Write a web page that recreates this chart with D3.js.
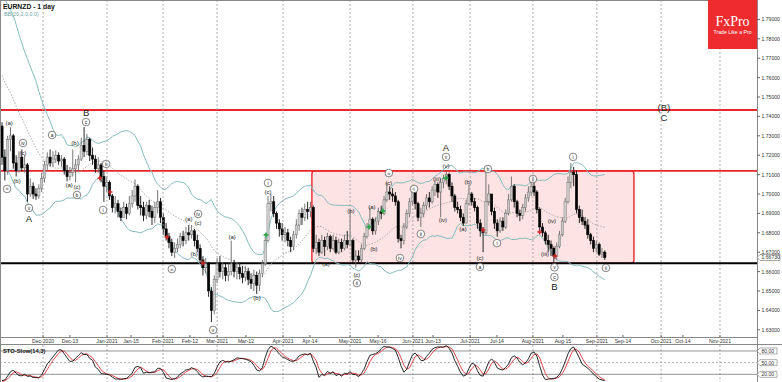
<!DOCTYPE html>
<html><head><meta charset="utf-8">
<script src="https://cdn.jsdelivr.net/npm/d3@7"></script>
<style>body{margin:0;background:#fff}svg{display:block;font-family:"Liberation Sans",Arial,sans-serif}</style>
</head><body><svg id="c" width="782" height="382"></svg>
<script>
// ---------------- DATA ----------------
const symbolTitle = "EURNZD - 1 day";
const bbTitle = "BB(20,2.0,0.0)";
const stoTitle = "STO-Slow(14,3)";
// closes before the first visible bar (only feed the indicators)
const warmupCloses = [1.7780,1.7820,1.7850,1.7800,1.7830,1.7860,1.7810,1.7760,1.7720,1.7690,1.7650,1.7600,1.7560,1.7580,1.7500,1.7450,1.7420,1.7380,1.7400,1.7350];
const firstOpen = 1.7350;
const closes = [
1.7190,1.7120,1.7280,1.7300,1.7160,1.7120,1.7190,1.7135,1.7150,1.7000,
1.7040,1.7000,1.6990,1.7030,1.7080,1.7150,1.7190,1.7160,1.7180,1.7200,
1.7170,1.7180,1.7120,1.7090,1.7110,1.7130,1.7150,1.7180,1.7250,1.7220,
1.7280,1.7200,1.7180,1.7130,1.7150,1.7090,1.7040,1.7060,1.6990,1.6930,
1.6950,1.6910,1.6880,1.6930,1.6900,1.6950,1.6990,1.7040,1.6940,1.6930,
1.6890,1.6940,1.6910,1.6880,1.6930,1.6960,1.6880,1.6820,1.6780,1.6750,
1.6700,1.6720,1.6740,1.6780,1.6760,1.6800,1.6790,1.6810,1.6760,1.6720,
1.6660,1.6620,1.6640,1.6500,1.6400,1.6560,1.6640,1.6600,1.6620,1.6580,
1.6600,1.6640,1.6600,1.6620,1.6590,1.6570,1.6600,1.6560,1.6540,1.6580,
1.6530,1.6590,1.6640,1.6760,1.6950,1.6960,1.6900,1.6850,1.6820,1.6790,
1.6800,1.6760,1.6730,1.6790,1.6840,1.6900,1.6880,1.6920,1.6910,1.6930,
1.6720,1.6750,1.6700,1.6760,1.6730,1.6780,1.6720,1.6760,1.6700,1.6750,
1.6720,1.6760,1.6740,1.6760,1.6660,1.6680,1.6660,1.6720,1.6780,1.6830,
1.6870,1.6810,1.6860,1.6910,1.6900,1.6970,1.7010,1.7000,1.6990,1.6960,
1.6770,1.6760,1.6830,1.6900,1.6960,1.7010,1.6950,1.6880,1.6900,1.6940,
1.6980,1.6960,1.7020,1.7050,1.7010,1.7060,1.7080,1.7100,1.7040,1.6990,
1.6930,1.6920,1.6880,1.6850,1.6950,1.7000,1.6960,1.6930,1.6850,1.6810,
1.6800,1.6960,1.7000,1.6910,1.6850,1.6810,1.6860,1.6830,1.6900,1.6970,
1.7040,1.6960,1.6900,1.6890,1.6930,1.6980,1.7010,1.7040,1.7010,1.6920,
1.6830,1.6800,1.6760,1.6740,1.6720,1.6680,1.6730,1.6790,1.6860,1.6960,
1.7060,1.7110,1.7100,1.6920,1.6880,1.6860,1.6840,1.6790,1.6760,1.6720,
1.6740,1.6690,1.6700,1.6673];
const highs = [
1.7370,1.7230,1.7300,1.7345,1.7310,1.7200,1.7220,1.7230,1.7200,1.7160,
1.7080,1.7060,1.7030,1.7050,1.7110,1.7170,1.7215,1.7230,1.7220,1.7225,
1.7215,1.7200,1.7190,1.7150,1.7140,1.7230,1.7180,1.7200,1.7290,1.7345,
1.7310,1.7290,1.7240,1.7200,1.7190,1.7160,1.7120,1.7090,1.7070,1.7000,
1.6990,1.6970,1.6930,1.6960,1.6950,1.6990,1.7020,1.7075,1.7050,1.6990,
1.6960,1.6960,1.6970,1.6940,1.6960,1.7020,1.6980,1.6900,1.6850,1.6800,
1.6770,1.6750,1.6770,1.6800,1.6810,1.6830,1.6840,1.6840,1.6820,1.6790,
1.6740,1.6680,1.6670,1.6650,1.6520,1.6580,1.6670,1.6680,1.6650,1.6640,
1.6640,1.6760,1.6660,1.6650,1.6640,1.6630,1.6630,1.6620,1.6590,1.6610,
1.6600,1.6610,1.6660,1.6780,1.6990,1.7000,1.6990,1.6910,1.6870,1.6850,
1.6830,1.6820,1.6780,1.6810,1.6870,1.6920,1.6930,1.6950,1.6960,1.6960,
1.6940,1.6790,1.6770,1.6790,1.6780,1.6800,1.6790,1.6790,1.6780,1.6770,
1.6770,1.6790,1.6810,1.6915,1.6770,1.6710,1.6710,1.6740,1.6800,1.6850,
1.6930,1.6880,1.6880,1.6930,1.6940,1.6990,1.7060,1.7040,1.7030,1.7010,
1.6970,1.6790,1.6850,1.6920,1.6980,1.7030,1.7020,1.6960,1.6930,1.6960,
1.7000,1.7010,1.7040,1.7070,1.7060,1.7080,1.7100,1.7115,1.7110,1.7060,
1.7000,1.6960,1.6940,1.6900,1.6970,1.7050,1.7010,1.6980,1.6940,1.6870,
1.6830,1.7130,1.7050,1.7000,1.6930,1.6870,1.6880,1.6880,1.6920,1.7000,
1.7090,1.7050,1.6970,1.6920,1.6950,1.7000,1.7040,1.7070,1.7060,1.7020,
1.6930,1.6850,1.6810,1.6790,1.6760,1.6730,1.6750,1.6810,1.6880,1.6980,
1.7090,1.7160,1.7140,1.7120,1.6940,1.6920,1.6880,1.6870,1.6800,1.6780,
1.6760,1.6750,1.6720,1.6710];
const lows = [
1.7150,1.7070,1.7100,1.7220,1.7130,1.7090,1.7110,1.7115,1.7110,1.6960,
1.6985,1.6975,1.6970,1.6975,1.7010,1.7060,1.7120,1.7140,1.7140,1.7160,
1.7150,1.7140,1.7100,1.7065,1.7070,1.7090,1.7060,1.7120,1.7170,1.7190,
1.7200,1.7170,1.7150,1.7110,1.7110,1.7060,1.6960,1.7010,1.6970,1.6905,
1.6900,1.6880,1.6860,1.6880,1.6870,1.6890,1.6930,1.6960,1.6920,1.6890,
1.6860,1.6870,1.6880,1.6840,1.6850,1.6900,1.6850,1.6790,1.6760,1.6720,
1.6680,1.6670,1.6700,1.6720,1.6730,1.6740,1.6760,1.6770,1.6730,1.6700,
1.6640,1.6580,1.6590,1.6470,1.6340,1.6380,1.6540,1.6570,1.6560,1.6550,
1.6550,1.6580,1.6570,1.6560,1.6560,1.6540,1.6550,1.6530,1.6510,1.6500,
1.6485,1.6500,1.6570,1.6630,1.6750,1.6910,1.6880,1.6820,1.6780,1.6760,
1.6750,1.6730,1.6700,1.6710,1.6770,1.6810,1.6840,1.6860,1.6870,1.6880,
1.6700,1.6690,1.6680,1.6690,1.6680,1.6710,1.6700,1.6710,1.6690,1.6690,
1.6700,1.6710,1.6720,1.6730,1.6640,1.6620,1.6640,1.6650,1.6710,1.6770,
1.6820,1.6790,1.6790,1.6840,1.6870,1.6890,1.6960,1.6970,1.6960,1.6940,
1.6750,1.6720,1.6740,1.6820,1.6880,1.6940,1.6920,1.6860,1.6830,1.6880,
1.6920,1.6930,1.6950,1.6990,1.6980,1.6880,1.7030,1.7050,1.7020,1.6960,
1.6910,1.6900,1.6860,1.6835,1.6850,1.6940,1.6940,1.6910,1.6820,1.6780,
1.6700,1.6790,1.6940,1.6890,1.6820,1.6780,1.6800,1.6810,1.6820,1.6890,
1.6960,1.6930,1.6880,1.6860,1.6870,1.6910,1.6960,1.6990,1.6990,1.6900,
1.6810,1.6780,1.6740,1.6700,1.6680,1.6650,1.6660,1.6720,1.6780,1.6850,
1.6950,1.7030,1.7040,1.6900,1.6850,1.6840,1.6820,1.6770,1.6740,1.6700,
1.6700,1.6680,1.6670,1.6660];
const priceTicks = [1.63,1.64,1.65,1.66,1.67,1.68,1.69,1.70,1.71,1.72,1.73,1.74,1.75,1.76,1.77,1.78,1.79];
const dateLabels = ["Dec-2020","Dec-13","Jan-2021","Jan-15","Feb-2021","Feb-12","Mar-2021","Mar-12","Apr-2021","Apr-14","May-2021","May-16","Jun-2021","Jun-13","Jul-2021","Jul-14","Aug-2021","Aug-15","Sep-2021","Sep-14","Oct-2021","Oct-14","Nov-2021"];
const dateBars   = [14.5,24.0,37.1,45.6,56.9,66.4,76.0,86.2,99.3,108.8,123.0,132.9,145.2,152.3,165.4,174.9,187.6,198.2,210.2,219.4,232.9,240.6,253.7];
const monthStart = [1,0,1,0,1,0,1,0,1,0,1,0,1,0,1,0,1,0,1,0,1,0,1];
const resistanceLevels = [1.7433, 1.7119];
const supportLevel = 1.6643;
const rangeBoxBars = [109.5, 223.3];
const rangeBoxPrices = [1.7119, 1.6643];
const lastPriceText = "1.66730";
const stoLevels = [80, 50, 20];
// wave labels: [text, bar, price, kind]  kind: 0 plain, 1 circled, 2 big
const waveLabels = [
["(a)",2.5,1.7366,0],["iii",1.8,1.7026,1],["iv",7.4,1.7263,1],["(c)",7.4,1.7211,0],["(b)",5.3,1.7067,0],
["v",9.5,1.6928,1],["A",9.5,1.6876,2],["a",17.7,1.7304,1],["(b)",25.8,1.7263,0],["(a)",23.7,1.7046,0],
["(c)",26.5,1.7036,0],["b",26.5,1.6995,1],["c",29.7,1.7371,1],["B",29.7,1.7418,2],["ii",36.8,1.7155,1],
["i",35.7,1.6918,1],["iii",60,1.6613,1],["(a)",66,1.6871,0],["iv",69.3,1.6897,1],["(c)",69.3,1.6851,0],
["(b)",67.9,1.6691,0],["v",74.6,1.6299,1],["(a)",81.3,1.6778,0],["(b)",90.1,1.6464,0],["i",94,1.7057,1],
["(c)",94,1.7010,0],["(a)",114.5,1.6639,0],["(b)",123.3,1.6912,0],["(c)",125.4,1.6582,0],["ii",125.4,1.6541,1],
["(a)",130.7,1.6933,0],["(b)",131.4,1.6716,0],["(c)",136.7,1.7057,0],["iii",136.7,1.7108,1],["iv",140.6,1.6670,1],
["i",145.6,1.7026,1],["ii",148,1.6794,1],["(iii)",153.7,1.7077,0],["(iv)",155.8,1.6866,0],["(v)",156.9,1.7144,0],
["v",156.9,1.7191,1],["A",156.9,1.7242,2],["(a)",162.9,1.6820,0],["(b)",164.7,1.7062,0],["(c)",168.9,1.6670,0],
["a",168.9,1.6624,1],["b",171.7,1.7129,1],["i",174.9,1.6747,1],["ii",187.6,1.7077,1],["(iii)",191.9,1.6689,0],
["(iv)",194.3,1.6861,0],["v",195.2,1.6622,1],["c",195.2,1.6572,1],["B",195.2,1.6521,2],["i",201.8,1.7191,1],
["ii",213.4,1.6619,1],["(B)",233.9,1.7448,2],["C",233.9,1.7392,2]];
const greenMarks = [[93.3,1.6789],[129.7,1.6830],[134.6,1.6912],[156.9,1.7082]];
const redMarks = [[34.6,1.7082],[38.2,1.7010],[58.3,1.6778],[71,1.6644],[170,1.6814],[190,1.6804],[195.4,1.6680]];

// ---------------- LAYOUT ----------------
const svg = d3.select("#c");
const plotR = 757, plotB = 337, stoT = 345, stoB = 382;
const x = d3.scaleLinear().domain([0, 267]).range([2, 2 + 267 * 2.83]);
const y = d3.scaleLinear().domain([1.63, 1.79]).range([329.8, 19.4]);
const ys = d3.scaleLinear().domain([0, 100]).range([382.1, 343.2]);
const n = closes.length;
const opens = closes.map((c, i) => i === 0 ? firstOpen : closes[i - 1]);

// indicators
const allC = warmupCloses.concat(closes);
const allH = warmupCloses.concat(highs);
const allL = warmupCloses.concat(lows);
const W0 = warmupCloses.length;
const bb = [];
for (let i = 0; i < n; i++) {
  const k = i + W0;
  const w = allC.slice(k - 19, k + 1);
  const m = d3.mean(w);
  const sd = Math.sqrt(d3.mean(w.map(v => (v - m) * (v - m))));
  bb.push({i, mid: m, up: m + 2 * sd, lo: m - 2 * sd});
}
const rawNum = [], rawDen = [];
for (let k = 0; k < allC.length; k++) {
  const s = Math.max(0, k - 13);
  const hh = d3.max(allH.slice(s, k + 1)), ll = d3.min(allL.slice(s, k + 1));
  rawNum.push(allC[k] - ll); rawDen.push(hh - ll);
}
const Kall = [];
for (let k = 0; k < allC.length; k++) {
  const s = Math.max(0, k - 2);
  const num = d3.sum(rawNum.slice(s, k + 1)), den = d3.sum(rawDen.slice(s, k + 1));
  Kall.push(den > 0 ? num / den * 100 : 50);
}
const sto = [];
for (let i = 0; i < n; i++) {
  const k = i + W0;
  sto.push({i, k: Kall[k], d: d3.mean(Kall.slice(k - 2, k + 1))});
}

// defs / clips
const defs = svg.append("defs");
defs.append("clipPath").attr("id", "mainClip").append("rect").attr("x", 0).attr("y", 0).attr("width", plotR).attr("height", plotB);
defs.append("clipPath").attr("id", "stoClip").append("rect").attr("x", 0).attr("y", stoT).attr("width", plotR).attr("height", stoB - stoT);

const main = svg.append("g").attr("clip-path", "url(#mainClip)");

// range box
main.append("rect")
  .attr("x", x(rangeBoxBars[0])).attr("y", y(rangeBoxPrices[0]))
  .attr("width", x(rangeBoxBars[1]) - x(rangeBoxBars[0]))
  .attr("height", y(rangeBoxPrices[1]) - y(rangeBoxPrices[0]))
  .attr("rx", 3).attr("fill", "#fde3e3").attr("stroke", "#e8262b").attr("stroke-width", 1.4);

// month grid
const grid = svg.append("g");
dateBars.forEach((b, j) => {
  if (!monthStart[j]) return;
  grid.append("line").attr("x1", x(b)).attr("x2", x(b)).attr("y1", 0).attr("y2", plotB)
    .attr("stroke", "#9a9a9a").attr("stroke-width", 0.8).attr("stroke-dasharray", "2,2");
  grid.append("line").attr("x1", x(b)).attr("x2", x(b)).attr("y1", stoT).attr("y2", stoB)
    .attr("stroke", "#9a9a9a").attr("stroke-width", 0.8).attr("stroke-dasharray", "2,2");
});

// level lines
resistanceLevels.forEach(p => {
  main.append("line").attr("x1", 0).attr("x2", plotR).attr("y1", y(p)).attr("y2", y(p))
    .attr("stroke", "#e8262b").attr("stroke-width", 1.8);
});
main.append("line").attr("x1", 0).attr("x2", plotR).attr("y1", y(supportLevel)).attr("y2", y(supportLevel))
  .attr("stroke", "#000").attr("stroke-width", 1.8);

// Bollinger bands
const bbLine = key => d3.line().x(d => x(d.i)).y(d => y(d[key]));
main.append("path").datum(bb).attr("d", bbLine("up")).attr("fill", "none").attr("stroke", "#86bcbc").attr("stroke-width", 1);
main.append("path").datum(bb).attr("d", bbLine("lo")).attr("fill", "none").attr("stroke", "#86bcbc").attr("stroke-width", 1);
main.append("path").datum(bb).attr("d", bbLine("mid")).attr("fill", "none").attr("stroke", "#9a9a9a").attr("stroke-width", 0.8).attr("stroke-dasharray", "1.5,1.5");

// candles
const cg = main.append("g");
const bw = 2.2;
for (let i = 0; i < n; i++) {
  const o = opens[i], c = closes[i], bull = c >= o;
  cg.append("line").attr("x1", x(i)).attr("x2", x(i)).attr("y1", y(highs[i])).attr("y2", y(lows[i]))
    .attr("stroke", bull ? "#666" : "#111").attr("stroke-width", 0.9);
  const top = y(Math.max(o, c)), bot = y(Math.min(o, c));
  cg.append("rect").attr("x", x(i) - bw / 2).attr("y", top).attr("width", bw).attr("height", Math.max(0.8, bot - top))
    .attr("fill", bull ? "rgba(255,255,255,0.55)" : "#000").attr("stroke", bull ? "#777" : "#000").attr("stroke-width", 0.6);
}

// markers
greenMarks.forEach(([b, p]) => {
  main.append("path").attr("d", d3.symbol(d3.symbolCross, 14)()).attr("transform", `translate(${x(b)},${y(p)})`).attr("fill", "#2da44a");
});
redMarks.forEach(([b, p]) => {
  main.append("path").attr("d", d3.symbol(d3.symbolCross, 12)()).attr("transform", `translate(${x(b)},${y(p)})`).attr("fill", "#d0252a");
});

// wave labels
const lg = main.append("g");
waveLabels.forEach(([t, b, p, kind]) => {
  const cx = x(b), cy = y(p);
  if (kind === 1) {
    lg.append("circle").attr("cx", cx).attr("cy", cy).attr("r", 3.8).attr("fill", "#fff").attr("stroke", "#333").attr("stroke-width", 0.6);
    lg.append("text").attr("x", cx).attr("y", cy).attr("text-anchor", "middle").attr("dominant-baseline", "central")
      .attr("font-size", t.length > 2 ? 4 : 5).attr("fill", "#222").text(t);
  } else if (kind === 2) {
    lg.append("text").attr("x", cx).attr("y", cy).attr("text-anchor", "middle").attr("dominant-baseline", "central")
      .attr("font-size", 9.5).attr("fill", "#222").text(t);
  } else {
    lg.append("text").attr("x", cx).attr("y", cy).attr("text-anchor", "middle").attr("dominant-baseline", "central")
      .attr("font-size", 6).attr("fill", "#222").text(t);
  }
});

// frames
const frame = svg.append("g").attr("stroke", "#888").attr("stroke-width", 1);
frame.append("line").attr("x1", 0).attr("x2", plotR).attr("y1", 0.5).attr("y2", 0.5);
frame.append("line").attr("x1", 0.5).attr("x2", 0.5).attr("y1", 0).attr("y2", stoB);
frame.append("line").attr("x1", 0).attr("x2", plotR).attr("y1", plotB + 0.5).attr("y2", plotB + 0.5);
frame.append("line").attr("x1", 0).attr("x2", 782).attr("y1", stoT - 0.5).attr("y2", stoT - 0.5);
frame.append("line").attr("x1", plotR + 0.5).attr("x2", plotR + 0.5).attr("y1", 0).attr("y2", stoB);

// right price axis
const ax = svg.append("g");
priceTicks.forEach(p => {
  ax.append("line").attr("x1", plotR).attr("x2", plotR + 3).attr("y1", y(p)).attr("y2", y(p)).attr("stroke", "#666");
  ax.append("text").attr("x", plotR + 4.5).attr("y", y(p)).attr("dominant-baseline", "central")
    .attr("font-size", 5.1).attr("fill", "#333").text(p.toFixed(5));
});
// last price box
const lp = y(closes[n - 1]);
ax.append("path").attr("d", `M${plotR},${lp} L${plotR + 3},${lp - 3} L${plotR + 23},${lp - 3} L${plotR + 23},${lp + 3} L${plotR + 3},${lp + 3} Z`)
  .attr("fill", "#fff").attr("stroke", "#777").attr("stroke-width", 0.7);
ax.append("text").attr("x", plotR + 4.5).attr("y", lp).attr("dominant-baseline", "central").attr("font-size", 5.1).attr("fill", "#333").text(lastPriceText);

// date axis
dateLabels.forEach((t, j) => {
  ax.append("line").attr("x1", x(dateBars[j])).attr("x2", x(dateBars[j])).attr("y1", plotB - 2).attr("y2", plotB).attr("stroke", "#666");
  ax.append("text").attr("x", x(dateBars[j])).attr("y", 341.3).attr("text-anchor", "middle").attr("dominant-baseline", "central")
    .attr("font-size", 5.1).attr("fill", "#333").text(t);
});

// stochastic panel
const sg = svg.append("g").attr("clip-path", "url(#stoClip)");
stoLevels.forEach(v => {
  sg.append("line").attr("x1", 0).attr("x2", plotR).attr("y1", ys(v)).attr("y2", ys(v))
    .attr("stroke", v === 50 ? "#999" : "#777").attr("stroke-width", 0.8).attr("stroke-dasharray", v === 50 ? "2,2" : null);
});
sg.append("path").datum(sto).attr("d", d3.line().x(d => x(d.i)).y(d => ys(d.d))).attr("fill", "none").attr("stroke", "#d9363b").attr("stroke-width", 0.9);
sg.append("path").datum(sto).attr("d", d3.line().x(d => x(d.i)).y(d => ys(d.k))).attr("fill", "none").attr("stroke", "#111").attr("stroke-width", 0.9);
stoLevels.forEach(v => {
  const yy = ys(v);
  svg.append("path").attr("d", `M${plotR},${yy} L${plotR + 3},${yy - 3} L${plotR + 20},${yy - 3} L${plotR + 20},${yy + 3} L${plotR + 3},${yy + 3} Z`)
    .attr("fill", "#fff").attr("stroke", "#777").attr("stroke-width", 0.6);
  svg.append("text").attr("x", plotR + 4.5).attr("y", yy).attr("dominant-baseline", "central").attr("font-size", 5).attr("fill", "#333").text(v.toFixed(2));
});
svg.append("text").attr("x", 3).attr("y", 351).attr("dominant-baseline", "central").attr("font-size", 5.8).attr("font-weight", "bold").attr("fill", "#111").text(stoTitle);

// titles
svg.append("text").attr("x", 3).attr("y", 6).attr("dominant-baseline", "central").attr("font-size", 6.8).attr("font-weight", "bold").attr("fill", "#111").text(symbolTitle);
svg.append("text").attr("x", 4).attr("y", 13.5).attr("dominant-baseline", "central").attr("font-size", 5.4).attr("fill", "#6fa8a8").text(bbTitle);

// logo
const logo = svg.append("g");
logo.append("rect").attr("x", 708).attr("y", 0).attr("width", 49).attr("height", 49).attr("fill", "#ee2b2e");
logo.append("text").attr("x", 732.5).attr("y", 26).attr("text-anchor", "middle").attr("font-family", "'Liberation Serif','DejaVu Serif',serif")
  .attr("font-size", 14).attr("fill", "#fff").text("FxPro");
logo.append("text").attr("x", 732.5).attr("y", 33.5).attr("text-anchor", "middle").attr("font-size", 5.2).attr("fill", "#fff").text("Trade Like a Pro");
</script></body></html>
